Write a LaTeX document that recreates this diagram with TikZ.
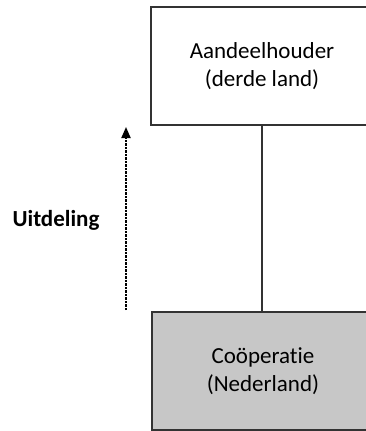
\documentclass[tikz,border=0pt]{standalone}
\usepackage{fontspec}
\setmainfont{Carlito}[Ligatures={NoCommon}]
\usetikzlibrary{arrows.meta}
\definecolor{coopgrijs}{rgb}{0.78,0.78,0.78}
\definecolor{lijn}{rgb}{0.2,0.2,0.2}
\begin{document}
\begin{tikzpicture}[x=1pt, y=-1pt,
        entiteit/.style={draw=lijn, line width=2pt, minimum width=222pt, minimum height=118pt,
            align=center, font=\fontsize{23}{28}\selectfont, inner sep=0pt},
        stroom/.style={line width=2pt, dash pattern=on 2.5pt off 1pt, -{Triangle[width=9pt,length=11pt]}}]
            \useasboundingbox (0,0) rectangle (366,431);
            \clip (0,0) rectangle (366,431);

            \node[entiteit] (houder) at (262,66) {Aandeelhouder\\(derde land)};
            \node[entiteit, fill=coopgrijs] (coop) at (263,371) {Coöperatie\\(Nederland)};
            \draw[lijn, line width=2pt] (houder.south) -- (coop.north -| houder.south);

            \coordinate (van) at (126,310);
            \coordinate (naar) at (126,127);
            \draw[stroom] (van) -- (naar);
            \node[font=\fontsize{23}{28}\selectfont\bfseries] (uitdeling) at (56,220) {Uitdeling};
        \end{tikzpicture}
\end{document}
